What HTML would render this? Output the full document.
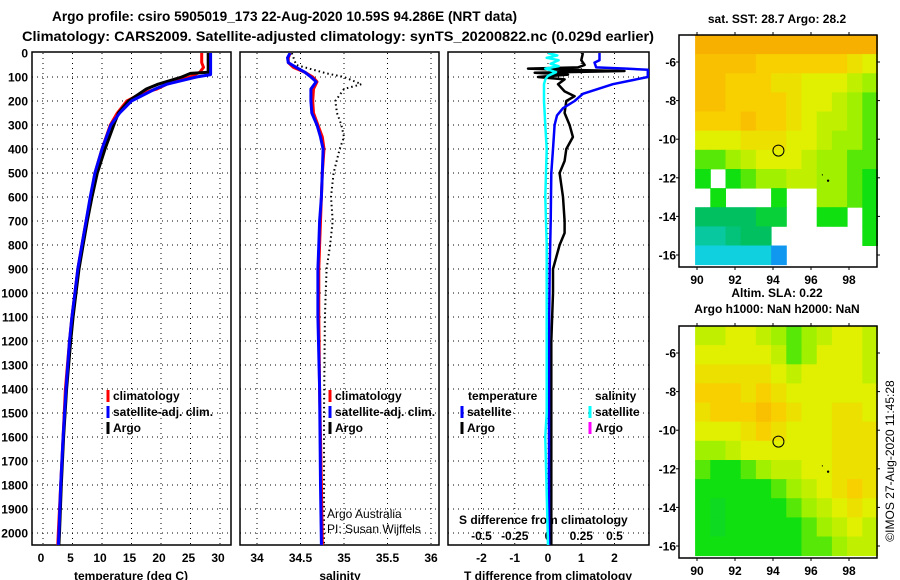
<!DOCTYPE html>
<html><head><meta charset="utf-8"><style>
html,body{margin:0;padding:0;background:#fff;}
svg{display:block;font-family:"Liberation Sans",sans-serif;}
.b{font-weight:bold;font-size:12px;}
</style></head><body>
<svg id="chart" width="900" height="580" viewBox="0 0 900 580" xmlns="http://www.w3.org/2000/svg">
<text x="52" y="21" font-size="14" font-weight="bold" textLength="465" lengthAdjust="spacingAndGlyphs">Argo profile: csiro 5905019_173 22-Aug-2020 10.59S 94.286E (NRT data)</text>
<text x="22" y="41" font-size="14" font-weight="bold" textLength="632" lengthAdjust="spacingAndGlyphs">Climatology: CARS2009. Satellite-adjusted climatology: synTS_20200822.nc (0.029d earlier)</text>
<g id="g"></g>
</svg>
<script>
// ---------- data ----------
const depthTicks=[0,100,200,300,400,500,600,700,800,900,1000,1100,1200,1300,1400,1500,1600,1700,1800,1900,2000];
const tempTicks=[0,5,10,15,20,25,30];
const salTicks=[34,34.5,35,35.5,36];
const tdiffTicks=[-2,-1,0,1,2];
const sdiffTicks=[-0.5,-0.25,0,0.25,0.5];
const tClimDepth=[0,40,60,80,100,130,150,170,200,250,300,400,500,600,700,800,900,1000,1100,1200,1400,1600,1800,2000,2050];
const tClimVal=[26.9,26.9,27.2,26.6,24.9,21,19.3,16.5,14.2,12.6,11.4,10,8.8,8.1,7.3,6.6,5.9,5.4,4.9,4.5,3.8,3.4,3.0,2.6,2.5];
const tArgoDepth=[0,80,85,100,130,150,200,250,300,400,500,600,700,800,900,1000,1100,1200,1400,1600,1800,2000,2050];
const tArgoVal=[28.0,28.0,25,23.5,19.5,17.5,14.5,12.8,12.0,10.5,9.2,8.3,7.5,6.8,6.1,5.6,5.1,4.7,4.0,3.5,3.1,2.8,2.7];
const tSatDepth=[0,90,100,130,150,200,250,300,400,500,600,700,800,900,1000,1100,1200,1400,1600,1800,2000,2050];
const tSatVal=[28.4,28.4,26,21,19,15,13,11.5,10,8.8,8.0,7.3,6.6,5.9,5.4,4.9,4.5,3.9,3.4,3.0,2.7,2.6];
const sClimDepth=[0,20,40,60,80,100,120,150,200,250,300,350,400,500,600,700,800,900,1000,1100,1400,1800,2050];
const sClimVal=[34.38,34.36,34.36,34.42,34.55,34.64,34.69,34.65,34.64,34.65,34.70,34.75,34.77,34.75,34.74,34.73,34.72,34.71,34.71,34.71,34.72,34.74,34.75];
const sSatDepth=[0,20,40,60,80,100,120,150,200,250,300,350,400,500,600,700,800,900,1000,1100,1400,1800,2050];
const sSatVal=[34.38,34.35,34.36,34.45,34.55,34.62,34.68,34.62,34.62,34.63,34.69,34.73,34.76,34.75,34.74,34.72,34.71,34.70,34.70,34.70,34.72,34.73,34.74];
const sArgoDepth=[0,50,85,100,115,130,150,200,250,300,350,400,500,600,700,800,900,1000,1100,1500,2000,2050];
const sArgoVal=[34.4,34.45,34.8,35.0,35.1,35.2,35.0,34.9,34.92,34.97,35.0,34.95,34.88,34.85,34.87,34.84,34.80,34.79,34.78,34.77,34.77,34.77];
const dTArgoDepth=[0,30,50,60,65,70,75,82,90,100,110,130,160,180,200,250,300,350,400,450,500,550,600,700,750,800,850,900,1000,1200,1500,2000,2050];
const dTArgoVal=[1.05,1.0,1.1,0.9,-0.6,0.4,2.3,-0.4,0.6,-0.3,0.5,0.3,0.5,0.8,0.55,0.5,0.65,0.75,0.55,0.5,0.35,0.4,0.45,0.5,0.5,0.35,0.25,0.15,0.15,0.1,0.1,0.1,0.1];
const dTSatDepth=[0,30,40,60,65,70,100,130,170,200,230,260,300,400,500,700,900,1200,2050];
const dTSatVal=[1.55,1.55,1.4,1.45,2.35,3.0,3.0,1.95,1.05,0.8,0.45,0.27,0.2,0.15,0.1,0.08,0.05,0.03,0.03];
const dSSatDepth=[0,10,20,30,45,55,65,80,95,110,130,200,300,400,600,800,1000,1500,1600,2050];
const dSSatVal=[0.0,0.07,-0.01,0.08,0.02,0.08,-0.02,0.06,0.0,-0.02,-0.03,-0.03,-0.02,-0.01,-0.02,-0.01,-0.01,-0.01,-0.02,0.0];
const mapLonTicks=[90,92,94,96,98];
const mapLatTicks=[-6,-8,-10,-12,-14,-16];
const sstGrid=[
[7,7,7,7,7,7,7,7,7,7,7,7],
[6.5,6.5,6.5,6.5,6,6,6,6,6,6,5.5,5],
[6.5,6.5,6,6,6,5.5,5.5,5,5,5,4.5,4],
[6.5,6.5,6,6,6,6,5.5,5,5,4.5,4,3.5],
[6,6,6,6.5,6,6,5.5,5,4.5,4.5,4,3.5],
[5,5,5,5.5,5.5,5.5,5,5,4.5,4,4,3.5],
[3.5,3.5,4,4.5,5,5,5,4.5,4,4,3.5,3.5],
[3,null,3,3.5,4,4,4.5,4.5,4,4,3.5,3],
[null,3,null,null,null,3,null,null,4,4,3.5,3],
[2,2,2,2,2.5,2.5,null,null,3,3,null,3],
[1.5,1.5,1.8,2,2,null,null,null,null,null,null,3],
[1,1,1,1,1,0.5,null,null,null,null,null,null]];
const slaGrid=[
[4.5,4.5,5,5,4.5,4,3.5,4,4.5,5,5,4.5],
[5,5,5,5,5,4.5,3.5,4,5,5,5,4.5],
[5.5,5.5,5.5,5.5,5.5,5,4.5,5,5,5,5,4.5],
[6,6,6,5.5,6,5.5,5,5,5,5,5,5],
[5.5,6,6,6,6.5,6,5.5,5,5,5.5,5.5,5],
[5,5,5,5.5,6,5.5,5,5,5,5.5,5.5,5.5],
[4,4,4.5,5,5,5,5,5,5,5.5,5.5,5.5],
[3.5,3,3,3.5,4,4.5,4.5,5,5,5.5,5.5,5.5],
[3,3,3,3,3,3.5,4,4.5,5,5.5,6,5.5],
[3,2.8,3,3,3,3,3.5,4,4.5,5,5.5,5],
[3,2.8,3,3,3,3,3,3.5,4,4.5,5,4.5],
[3,3,3,3,3,3,3,3.5,3.5,4,4.5,4.5]];
const argoLon=94.286, argoLat=-10.59;

// ---------- helpers ----------
const NS="http://www.w3.org/2000/svg";
const G=document.getElementById('g');
function mk(tag,attrs,parent){const e=document.createElementNS(NS,tag);for(const k in attrs)e.setAttribute(k,attrs[k]);(parent||G).appendChild(e);return e;}
const Y0=53, PY=0.24, YB=545;
const yD=d=>Y0+d*PY;
function lin(d0,d1,p0,p1){return v=>p0+(v-d0)*(p1-p0)/(d1-d0);}
const xT=lin(0,30,43,220), xS=lin(34,36,257,431), xDT=lin(-2,2,481.5,614.5), xDS=v=>xDT(v*4);

const panels=[[32,231],[240,439],[448,649]];
panels.forEach((p,i)=>{
  const fr=mk('rect',{x:p[0],y:Y0-1,width:p[1]-p[0],height:YB-Y0+1,fill:'none',stroke:'#000','stroke-width':1.5});
  
  
  depthTicks.forEach(d=>{ if(d===0)return;
    const l=mk('line',{x1:p[0],x2:p[1],y1:yD(d),y2:yD(d),stroke:'#000','stroke-width':1,'stroke-dasharray':'1,4'});
    
    
  });
});
function vgrid(ticks,xf,name){ticks.forEach(t=>{
  const l=mk('line',{x1:xf(t),x2:xf(t),y1:Y0,y2:YB,stroke:'#000','stroke-width':1,'stroke-dasharray':'1,4'});
  
  
});}
vgrid(tempTicks,xT,'temperature-gridline');vgrid(salTicks,xS,'salinity-gridline');vgrid(tdiffTicks,xDT,'tdiff-gridline');

depthTicks.forEach(d=>{const t=mk('text',{x:28,y:yD(d)+4.5,'text-anchor':'end',class:'b'});t.textContent=d;
  
  });
function xlabels(ticks,xf,y,name){ticks.forEach(v=>{const t=mk('text',{x:xf(v),y:y,'text-anchor':'middle',class:'b'});t.textContent=v;
  
  });}
xlabels(tempTicks,v=>xT(v)-2,562,'temperature-tick-label');
xlabels(salTicks,xS,562,'salinity-tick-label');
xlabels(tdiffTicks,xDT,562,'tdiff-tick-label');
xlabels(sdiffTicks,xDS,540,'sdiff-tick-label');
[['temperature (deg C)',131,'temperature-axis-title'],['salinity',340,'salinity-axis-title'],['T difference from climatology',548,'tdiff-axis-title']].forEach(a=>{
  const t=mk('text',{x:a[1],y:580,'text-anchor':'middle',class:'b'});t.textContent=a[0];
  
  });
const sd=mk('text',{x:459,y:524,class:'b'});sd.textContent='S difference from climatology';



function clip(id,p){const c=mk('clipPath',{id:id});mk('rect',{x:p[0],y:Y0,width:p[1]-p[0],height:YB-Y0},c);}
clip('c1',panels[0]);clip('c2',panels[1]);clip('c3',panels[2]);
function line(ds,vs,xf,col,w,name,cl,dash){
  const pts=ds.map((d,i)=>xf(vs[i]).toFixed(1)+','+yD(d).toFixed(1)).join(' ');
  const a={points:pts,fill:'none',stroke:col,'stroke-width':w,'clip-path':'url(#'+cl+')','stroke-linejoin':'round'};
  if(dash)a['stroke-dasharray']=dash;
  const e=mk('polyline',a);
  
  
}
line(tClimDepth,tClimVal,xT,'#f00',3,'temperature-climatology-line','c1');
line(tArgoDepth,tArgoVal,xT,'#000',3,'temperature-argo-line','c1');
line(tSatDepth,tSatVal,xT,'#00f',3,'temperature-satellite-line','c1');
line(sArgoDepth,sArgoVal,xS,'#000',2,'salinity-argo-line','c2','1.5,3');
line(sClimDepth,sClimVal,xS,'#f00',3,'salinity-climatology-line','c2');
line(sSatDepth,sSatVal,xS,'#00f',3,'salinity-satellite-line','c2');
line(dTArgoDepth,dTArgoVal,xDT,'#000',2.5,'tdiff-argo-line','c3');
line(dTSatDepth,dTSatVal,xDT,'#00f',2.5,'tdiff-satellite-line','c3');
line(dSSatDepth,dSSatVal,xDS,'#0ff',2.5,'sdiff-satellite-line','c3');

function legend(x,y,col,label,name){
  const m=mk('rect',{x:x-1.5,y:y-10,width:3,height:12,fill:col});
  
  
  if(label){const t=mk('text',{x:x+5,y:y,class:'b'});t.textContent=label;
  
  }
}
legend(108,400,'#f00','climatology','legend-climatology');
legend(108,416,'#00f','satellite-adj. clim.','legend-satellite-adj');
legend(108,432,'#000','Argo','legend-argo');
legend(330,400,'#f00','climatology','legend2-climatology');
legend(330,416,'#00f','satellite-adj. clim.','legend2-satellite-adj');
legend(330,432,'#000','Argo','legend2-argo');
legend(462,416,'#00f','satellite','legend3-t-satellite');
legend(462,432,'#000','Argo','legend3-t-argo');
legend(590,416,'#0ff','satellite','legend3-s-satellite');
legend(590,432,'#f0f','Argo','legend3-s-argo');
[['temperature',468,'legend3-temperature-header'],['salinity',595,'legend3-salinity-header']].forEach(a=>{
  const t=mk('text',{x:a[1],y:400,class:'b'});t.textContent=a[0];
  
  });
[['Argo Australia',518,'credit-argo-australia'],['PI: Susan Wijffels',533,'credit-pi']].forEach(a=>{
  const t=mk('text',{x:327,y:a[1],'font-size':12});t.textContent=a[0];
  
  });

// ---------- maps ----------
const stops=[[0,[16,96,255]],[1,[16,208,224]],[2,[0,192,96]],[3,[16,224,16]],[4,[160,240,0]],[5,[224,240,0]],[6,[248,208,0]],[7,[248,176,0]]];
function col(v){for(let i=0;i<stops.length-1;i++){const a=stops[i],b=stops[i+1];if(v<=b[0]){const f=(v-a[0])/(b[0]-a[0]);return 'rgb('+a[1].map((c,j)=>Math.round(c+(b[1][j]-c)*f)).join(',')+')';}}return 'rgb(248,176,0)';}
function map(top,grid,name,titles){
  const L=679,R=877,B=top+232;
  const xL=lin(90,98,697,849), yL=lin(-6,-16,top+27,top+220);
  const lonE=[89.9,99.5], latE=[-4.6,-16.5];
  const nc=grid[0].length,nr=grid.length;
  const cw=(xL(lonE[1])-xL(lonE[0]))/nc, ch=(yL(latE[1])-yL(latE[0]))/nr;
  grid.forEach((row,r)=>row.forEach((v,c)=>{ if(v===null)return;
    const e=mk('rect',{x:(xL(lonE[0])+c*cw).toFixed(1),y:(yL(latE[0])+r*ch).toFixed(1),width:(cw+0.5).toFixed(1),height:(ch+0.5).toFixed(1),fill:col(v)});
    
    
  }));
  const f=mk('rect',{x:L,y:top,width:R-L,height:B-top,fill:'none',stroke:'#000','stroke-width':1.5});
  
  
  mapLonTicks.forEach(v=>{mk('line',{x1:xL(v),x2:xL(v),y1:top-3,y2:top,stroke:'#000'});mk('line',{x1:xL(v),x2:xL(v),y1:B,y2:B+3,stroke:'#000'});
    const t=mk('text',{x:xL(v),y:B+17,'text-anchor':'middle',class:'b'});t.textContent=v;
    
    });
  mapLatTicks.forEach(v=>{mk('line',{x1:L-3,x2:L,y1:yL(v),y2:yL(v),stroke:'#000'});mk('line',{x1:R,x2:R+3,y1:yL(v),y2:yL(v),stroke:'#000'});
    const t=mk('text',{x:L-3,y:yL(v)+4.5,'text-anchor':'end',class:'b'});t.textContent=v;
    
    });
  const ci=mk('circle',{cx:xL(argoLon),cy:yL(argoLat),r:5.5,fill:'none',stroke:'#000','stroke-width':1});
  
  
  mk('circle',{cx:xL(96.9),cy:yL(-12.15),r:1.2,fill:'#000'});
  mk('circle',{cx:xL(96.6),cy:yL(-11.85),r:0.6,fill:'#000'});
  titles.forEach(tt=>{const t=mk('text',{x:777,y:tt[1],'text-anchor':'middle',class:'b'});t.textContent=tt[0];
    
    });
}
map(35,sstGrid,'sst-map',[['sat. SST: 28.7 Argo: 28.2',23,'sst-map-title']]);
map(326,slaGrid,'sla-map',[['Altim. SLA: 0.22',297,'sla-map-title'],['Argo h1000: NaN h2000: NaN',313,'sla-map-subtitle']]);
const ts=mk('text',{x:0,y:0,'font-size':12,'text-anchor':'middle',transform:'translate(894,461) rotate(-90)'});
ts.textContent='©IMOS 27-Aug-2020 11:45:28';


</script>
</body></html>
